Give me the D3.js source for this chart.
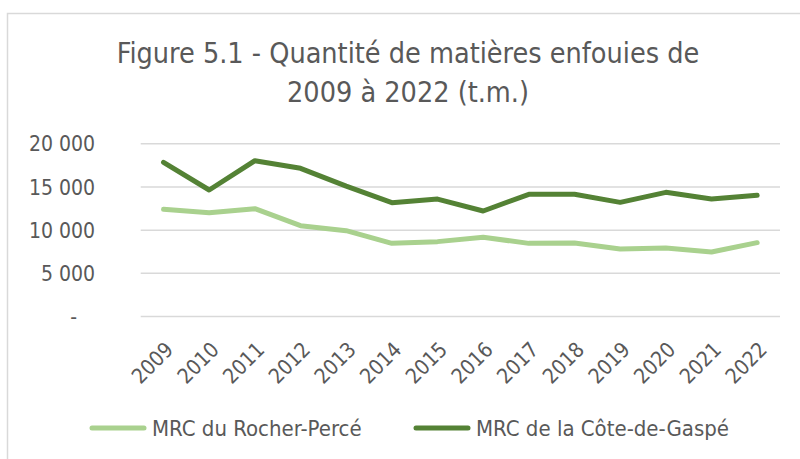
<!DOCTYPE html>
<html><head><meta charset="utf-8">
<script src="https://cdn.jsdelivr.net/npm/d3@7"></script>
<style>
body{margin:0;background:#fff;}
svg{display:block;}
text{font-family:"Liberation Sans Narrow","DejaVu Sans Condensed",sans-serif;fill:#595959;}
</style></head>
<body>
<svg id="chart" width="800" height="459"></svg>
<script>
const years = ["2009","2010","2011","2012","2013","2014","2015","2016","2017","2018","2019","2020","2021","2022"];
const rocherPerce = [12410,12020,12490,10520,9940,8470,8670,9170,8470,8510,7820,7930,7470,8550];
const coteDeGaspe = [17860,14650,18040,17160,15100,13180,13600,12220,14150,14150,13220,14380,13600,14030];
const yTicks = [0,5000,10000,15000,20000];
const titleLines = ["Figure 5.1 - Quantité de matières enfouies de","2009 à 2022 (t.m.)"];
const seriesNames = ["MRC du Rocher-Percé","MRC de la Côte-de-Gaspé"];
const seriesColors = ["#A9D18E","#548235"];

const svg = d3.select("#chart");
svg.append("rect").attr("x",7.5).attr("y",13.5).attr("width",820).attr("height",470)
  .attr("fill","#fff").attr("stroke","#d9d9d9").attr("stroke-width",1.5);

const x = d3.scalePoint().domain(years).range([140.7,780]).padding(0.5);
const y = d3.scaleLinear().domain([0,20000]).range([316.5,143.8]);

// gridlines
svg.append("g").selectAll("line").data(yTicks).join("line")
  .attr("x1",140.7).attr("x2",780).attr("y1",d=>y(d)).attr("y2",d=>y(d))
  .attr("stroke","#d9d9d9").attr("stroke-width",1.5);

// y axis labels
const fmt = d => d===0 ? "-" : d3.format(",")(d).replace(/,/g," ");
const yAxis = d3.axisLeft(y).tickValues(yTicks).tickFormat(fmt).tickSize(0).tickPadding(0);
const gy = svg.append("g").attr("transform","translate(95,0)").call(yAxis);
gy.select(".domain").remove();
gy.selectAll("text").attr("font-size",21).attr("fill","#595959")
  .attr("font-family",null).attr("dy","0.34em");
gy.selectAll("text").filter(d=>d===0).attr("dx",-18);

// x axis labels
const xAxis = d3.axisBottom(x).tickSize(0).tickPadding(0);
const gx = svg.append("g").call(xAxis);
gx.select(".domain").remove();
gx.selectAll(".tick").attr("transform",d=>`translate(${x(d)+11},351)`);
gx.selectAll("text").attr("transform","rotate(-45)").attr("text-anchor","end")
  .attr("y",0).attr("dy",0).attr("font-size",21).attr("fill","#595959").attr("font-family",null);

// lines
const line = d3.line().x((d,i)=>x(years[i])).y(d=>y(d));
[rocherPerce, coteDeGaspe].forEach((s,k)=>{
  svg.append("path").datum(s).attr("d",line).attr("fill","none")
    .attr("stroke",seriesColors[k]).attr("stroke-width",5)
    .attr("stroke-linejoin","round").attr("stroke-linecap","round");
});

// title
svg.append("text").attr("text-anchor","middle").attr("font-size",28.5)
  .selectAll("tspan").data(titleLines).join("tspan")
  .attr("x",408).attr("y",(d,i)=>62.5+i*39.5).text(d=>d);

// legend
const legX = [92, 416];
seriesNames.forEach((n,k)=>{
  svg.append("line").attr("x1",legX[k]).attr("x2",legX[k]+52).attr("y1",428).attr("y2",428)
    .attr("stroke",seriesColors[k]).attr("stroke-width",5).attr("stroke-linecap","round");
  svg.append("text").attr("x",legX[k]+60).attr("y",435.5).attr("font-size",22).text(n);
});
</script>
</body></html>
